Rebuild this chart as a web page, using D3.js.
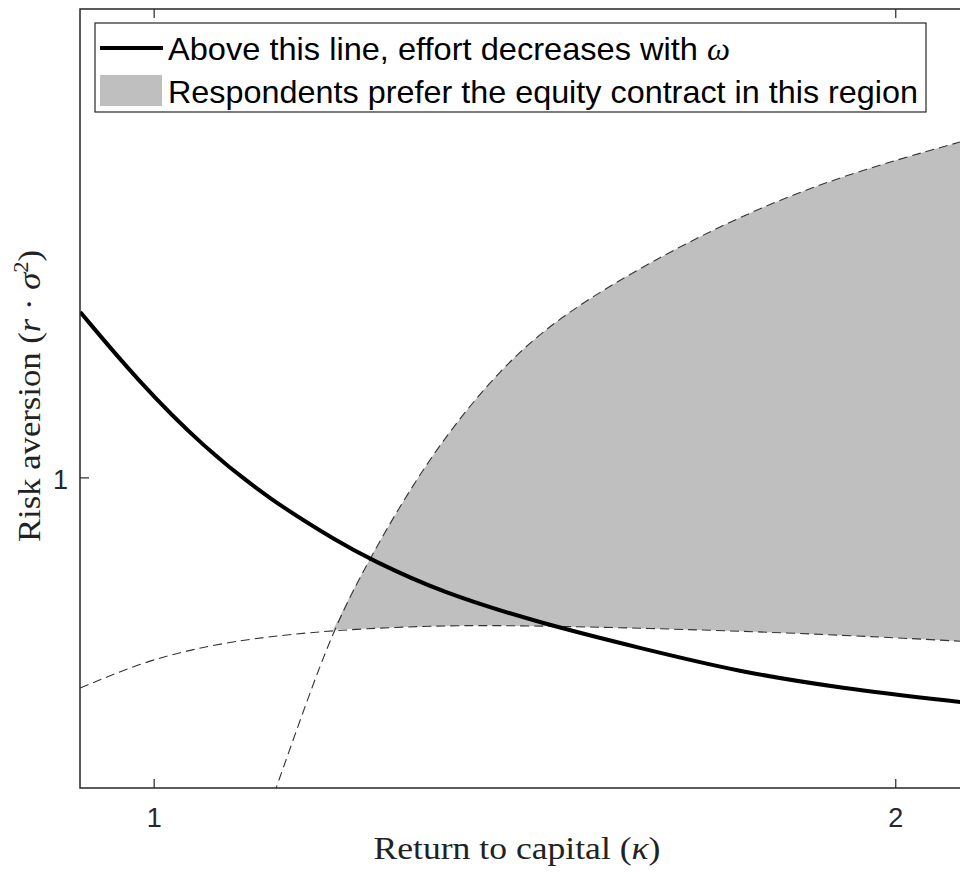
<!doctype html>
<html lang="en">
<head>
  <meta charset="utf-8">
  <title>Risk aversion vs return to capital</title>
  <style>
    body { margin: 0; background: #fff; }
    svg { display: block; }
  </style>
</head>
<body>
<svg id="chart" width="960" height="872"></svg>

<script src="https://d3js.org/d3.v7.min.js"></script>
<script type="text/javascript">
// values: kappa (x) and r*sigma^2 (y)
const effortKappa = [0.9003, 0.9771, 1.066, 1.1563, 1.2507, 1.2911, 1.3854, 1.5202, 1.655, 1.7898, 1.9245, 2.0863, 2.15];
const effortRisk  = [1.2118, 1.125, 1.0395, 0.9718, 0.9169, 0.8964, 0.8543, 0.8147, 0.7828, 0.7521, 0.7317, 0.7138, 0.7068];

const upperKappa = [1.1496, 1.1644, 1.1968, 1.2412, 1.2911, 1.372, 1.4663, 1.5512, 1.6685, 1.7898, 1.9245, 2.0863, 2.15];
const upperRisk  = [0.563, 0.604, 0.6908, 0.806, 0.899, 1.0292, 1.1403, 1.2093, 1.2757, 1.3344, 1.3855, 1.4289, 1.4455];

const lowerKappa = [0.9003, 0.9811, 1.0526, 1.1253, 1.2412, 1.3989, 1.5202, 1.655, 1.8706, 2.0863, 2.15];
const lowerRisk  = [0.7317, 0.7636, 0.7815, 0.7943, 0.806, 0.8122, 0.8109, 0.8083, 0.8019, 0.7917, 0.7879];

const regionStart = 1.2412; // where the two dashed curves meet

const xTicks = [1, 2];
const yTicks = [1];

const legendLabels = ['Above this line, effort decreases with ', 'Respondents prefer the equity contract in this region'];

const zip = (xs, ys) => xs.map((k, i) => ({ k: k, v: ys[i] }));
const effort = zip(effortKappa, effortRisk);
const upper = zip(upperKappa, upperRisk);
const lower = zip(lowerKappa, lowerRisk);

const chart = d3.select('#chart');
const margin = { top: 9, left: 80 };
const plotRight = 1007;
const plotBottom = 788;

const x = d3.scaleLinear().domain([0.9, 2.15]).range([margin.left, plotRight]);
const y = d3.scaleLinear().domain([0.604, 1.6]).range([plotBottom, 8]);

const axisColor = '#262626';

chart.append('defs').append('clipPath')
  .attr('id', 'plotClip')
  .append('rect')
  .attr('x', margin.left)
  .attr('y', margin.top)
  .attr('width', plotRight - margin.left)
  .attr('height', plotBottom - margin.top);

const plot = chart.append('g').attr('clip-path', 'url(#plotClip)');

const line = d3.line()
  .x(d => x(d.k))
  .y(d => y(d.v))
  .curve(d3.curveBasis);

// shaded region between the dashed curves
const upSeg = upper.filter(d => d.k >= regionStart);
const lowSeg = lower.filter(d => d.k >= regionStart).reverse();
plot.append('path')
  .attr('d', line(upSeg) + 'L' + line(lowSeg).slice(1) + 'Z')
  .attr('fill', '#bfbfbf')
  .attr('stroke', 'none');

[upper, lower].forEach(s => {
  plot.append('path')
    .datum(s)
    .attr('fill', 'none')
    .attr('stroke', '#333')
    .attr('stroke-width', 1.1)
    .attr('stroke-dasharray', '9,5')
    .attr('d', line);
});

plot.append('path')
  .datum(effort)
  .attr('fill', 'none')
  .attr('stroke', '#000')
  .attr('stroke-width', 4)
  .attr('d', line);

// box + ticks (ticks inside, mirrored on top)
const axes = chart.append('g');
axes.append('rect')
  .attr('x', margin.left)
  .attr('y', margin.top)
  .attr('width', plotRight - margin.left)
  .attr('height', plotBottom - margin.top)
  .attr('fill', 'none')
  .attr('stroke', axisColor)
  .attr('stroke-width', 1.5);

const sans = 'Liberation Sans, Arial, sans-serif';
const serif = 'Liberation Serif, Times New Roman, serif';

xTicks.forEach(t => {
  axes.append('line')
    .attr('x1', x(t)).attr('x2', x(t))
    .attr('y1', plotBottom).attr('y2', plotBottom - 9)
    .attr('stroke', axisColor).attr('stroke-width', 1.2);
  axes.append('line')
    .attr('x1', x(t)).attr('x2', x(t))
    .attr('y1', margin.top).attr('y2', margin.top + 9)
    .attr('stroke', axisColor).attr('stroke-width', 1.2);
  axes.append('text')
    .attr('x', x(t))
    .attr('y', plotBottom + 39)
    .attr('text-anchor', 'middle')
    .attr('font-family', sans)
    .attr('font-size', 27)
    .attr('fill', axisColor)
    .text(t);
});

yTicks.forEach(t => {
  axes.append('line')
    .attr('x1', margin.left).attr('x2', margin.left + 9)
    .attr('y1', y(t)).attr('y2', y(t))
    .attr('stroke', axisColor).attr('stroke-width', 1.2);
  axes.append('text')
    .attr('x', margin.left - 12)
    .attr('y', y(t) + 11)
    .attr('text-anchor', 'end')
    .attr('font-family', sans)
    .attr('font-size', 27)
    .attr('fill', axisColor)
    .text(t);
});

// axis titles
const xTitle = chart.append('text')
  .attr('x', 517)
  .attr('y', 859)
  .attr('text-anchor', 'middle')
  .attr('font-family', serif)
  .attr('font-size', 31)
  .attr('fill', '#222')
  .attr('textLength', 287)
  .attr('lengthAdjust', 'spacingAndGlyphs');
xTitle.append('tspan').text('Return to capital (');
xTitle.append('tspan').attr('font-style', 'italic').text('κ');
xTitle.append('tspan').text(')');

const yTitle = chart.append('text')
  .attr('transform', 'translate(40, 396) rotate(-90)')
  .attr('text-anchor', 'middle')
  .attr('font-family', serif)
  .attr('font-size', 31)
  .attr('fill', '#222')
  .attr('textLength', 292)
  .attr('lengthAdjust', 'spacingAndGlyphs');
yTitle.append('tspan').text('Risk aversion (');
yTitle.append('tspan').attr('font-style', 'italic').text('r');
yTitle.append('tspan').text(' · ');
yTitle.append('tspan').attr('font-style', 'italic').text('σ');
yTitle.append('tspan').attr('font-size', 20).attr('dy', -12).text('2');
yTitle.append('tspan').attr('dy', 12).text(')');

// legend
const legend = chart.append('g');
legend.append('rect')
  .attr('x', 95).attr('y', 23)
  .attr('width', 831).attr('height', 89)
  .attr('fill', '#fff')
  .attr('stroke', axisColor)
  .attr('stroke-width', 1.2);

legend.append('line')
  .attr('x1', 100).attr('x2', 163)
  .attr('y1', 48).attr('y2', 48)
  .attr('stroke', '#000').attr('stroke-width', 4);
legend.append('rect')
  .attr('x', 100).attr('y', 75)
  .attr('width', 62).attr('height', 31)
  .attr('fill', '#bfbfbf');

const l1 = legend.append('text')
  .attr('x', 168).attr('y', 60)
  .attr('font-family', sans)
  .attr('font-size', 32)
  .attr('fill', '#000')
  .attr('textLength', 562)
  .attr('lengthAdjust', 'spacingAndGlyphs');
l1.append('tspan').text(legendLabels[0]);
l1.append('tspan').attr('font-family', serif).attr('font-style', 'italic').text('ω');

legend.append('text')
  .attr('x', 168).attr('y', 103)
  .attr('font-family', sans)
  .attr('font-size', 32)
  .attr('fill', '#000')
  .attr('textLength', 750)
  .attr('lengthAdjust', 'spacingAndGlyphs')
  .text(legendLabels[1]);
</script>
</body>
</html>
